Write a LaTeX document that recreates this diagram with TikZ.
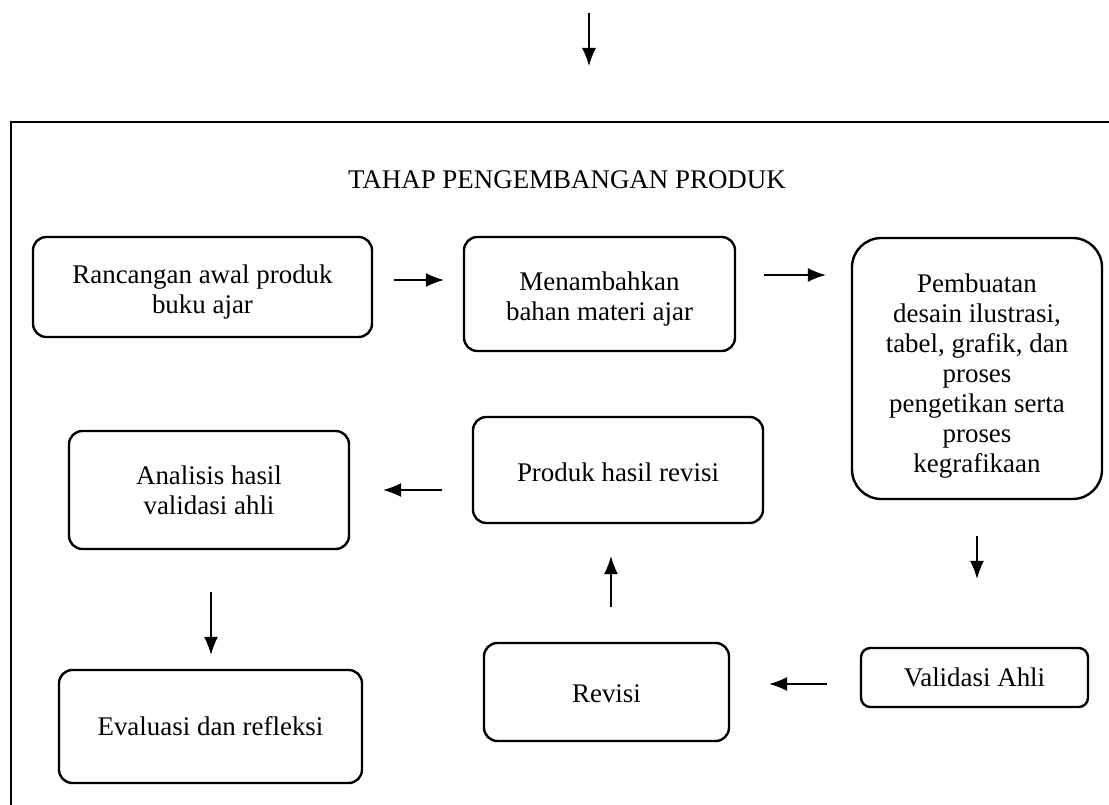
\documentclass[tikz,border=0pt]{standalone}
\usepackage{fontspec}
\setmainfont{Liberation Serif}
\usepackage{tikz}
\usetikzlibrary{calc,arrows.meta}

\newcommand{\naik}[1]{\rule{0pt}{#1}}

\begin{document}
\begin{tikzpicture}[x=0.75pt, y=-0.75pt,
    box/.style={draw, line width=1.8pt, rounded corners=10pt, align=center, inner sep=2pt,
                font=\fontsize{20.2}{22.5}\selectfont},
    flow/.style={line width=0.9pt, -{Latex[length=13.5pt,width=10.5pt]}},
    frame/.style={line width=2.2pt} ]

	\useasboundingbox (0,0) rectangle (1109,805);
	\draw[frame] (11,805) -- (11,122) -- (1109,122);

	\coordinate (masuk) at (589,13);
	\coordinate (masukujung) at (589,66);
	\draw[flow] (masuk) -- (masukujung);

	\node[font=\fontsize{20.2}{22.5}\selectfont] (judul) at (567,180) {TAHAP PENGEMBANGAN PRODUK};

	% baris atas
	\node[box, minimum width=254.25pt, minimum height=75pt] (rancangan) at (202.5,287) {\naik{21.5pt}Rancangan awal produk\\buku ajar};
	\node[box, minimum width=203.25pt, minimum height=85.5pt] (tambah) at (599.5,294) {\naik{21.5pt}Menambahkan\\bahan materi ajar};
	\node[box, rounded corners=22pt, minimum width=187.5pt, minimum height=195.75pt] (desain) at (977,368.5)
		{\naik{26pt}Pembuatan\\desain ilustrasi,\\tabel, grafik, dan\\proses\\pengetikan serta\\proses\\kegrafikaan};

	% baris tengah dan bawah
	\node[box, minimum width=217.5pt, minimum height=79.5pt] (produk) at (618,470) {\naik{17pt}Produk hasil revisi};
	\node[box, minimum width=210pt, minimum height=88.5pt] (analisis) at (209,490) {Analisis hasil\\validasi ahli};
	\node[box, minimum width=227.25pt, minimum height=84.75pt] (evaluasi) at (210.5,726.5) {Evaluasi dan refleksi};
	\node[box, minimum width=183.75pt, minimum height=73.5pt] (revisi) at (606.5,692) {\naik{16pt}Revisi};
	\node[box, rounded corners=7pt, minimum width=170.25pt, minimum height=44.25pt] (validasi) at (974.5,677.5) {Validasi Ahli};

	\draw[flow] ($(rancangan.east)+(21,-7)$) -- ($(tambah.west)+(-19,-14)$);
	\draw[flow] ($(tambah.east)+(28,-19)$) -- ($(desain.west)+(-25,-93.5)$);
	\draw[flow] ($(desain.south)+(0,36)$) -- ($(validasi.north)+(2.5,-68)$);
	\draw[flow] ($(validasi.west)+(-33,6.5)$) -- ($(revisi.east)+(39,-8)$);
	\draw[flow] ($(revisi.north)+(4.5,-35)$) -- ($(produk.south)+(-7,32)$);
	\draw[flow] ($(produk.west)+(-30,20)$) -- ($(analisis.east)+(33,0)$);
	\draw[flow] ($(analisis.south)+(2,42)$) -- ($(evaluasi.north)+(0.5,-14)$);
\end{tikzpicture}
\end{document}
